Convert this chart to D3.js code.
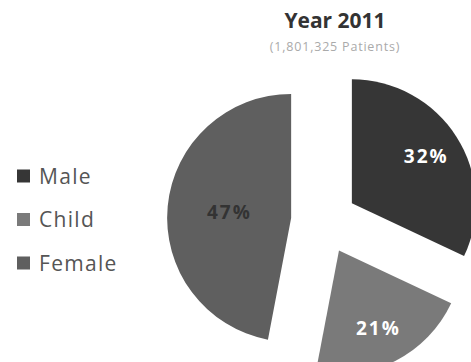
<!DOCTYPE html>
<html><head><meta charset="utf-8">
<script src="https://cdn.jsdelivr.net/npm/d3@7"></script>
<style>html,body{margin:0;padding:0;background:#fff;}svg{display:block;}</style>
</head><body>
<svg id="chart" width="471" height="362"></svg>
<script>
const categories = ["Male", "Child", "Female"];
const values = [32, 21, 47];
const labels = ["32%", "21%", "47%"];
const colors = ["#363636", "#7a7a7a", "#5f5f5f"];
const labelColors = ["#ffffff", "#ffffff", "#333333"];
const title = "Year 2011";
const subtitle = "(1,801,325 Patients)";

const svg = d3.select("#chart");
const cx = 324, cy = 221, r = 124, explode = 33;
const labelRadiusFactor = [0.71, 0.70, 0.50];

svg.append("text").attr("x", 335).attr("y", 28).attr("text-anchor", "middle")
  .attr("font-family", "Open Sans").attr("font-weight", "bold").attr("font-size", 21)
  .attr("fill", "#333").text(title);
svg.append("text").attr("x", 335).attr("y", 51).attr("text-anchor", "middle")
  .attr("font-family", "Open Sans").attr("font-size", 12.5).attr("letter-spacing", 0.8)
  .attr("fill", "#aaa").text(subtitle);

const pie = d3.pie().sort(null).value(d => d)(values);
const arc = d3.arc().innerRadius(0).outerRadius(r);

const g = svg.append("g").attr("transform", `translate(${cx},${cy})`);
const slices = g.selectAll("g.slice").data(pie).join("g").attr("class", "slice")
  .attr("transform", d => {
    const a = (d.startAngle + d.endAngle) / 2;
    return `translate(${explode * Math.sin(a)},${-explode * Math.cos(a)})`;
  });
slices.append("path").attr("d", arc).attr("fill", (d, i) => colors[i]);
slices.append("text")
  .attr("transform", (d, i) => {
    const lr = r * labelRadiusFactor[i];
    return `translate(${d3.arc().innerRadius(lr).outerRadius(lr).centroid(d)})`;
  })
  .attr("text-anchor", "middle").attr("dy", "0.36em")
  .attr("font-family", "Open Sans").attr("font-weight", "bold").attr("font-size", 19)
  .attr("letter-spacing", 2)
  .attr("fill", (d, i) => labelColors[i]).text((d, i) => labels[i]);

const legend = svg.append("g");
const ly = d3.scalePoint().domain(categories).range([176, 263]);
categories.forEach((c, i) => {
  legend.append("rect").attr("x", 17).attr("y", ly(c) - 6.5).attr("width", 13).attr("height", 13)
    .attr("fill", colors[i]);
  legend.append("text").attr("x", 39).attr("y", ly(c)).attr("dy", "0.36em")
    .attr("font-family", "Open Sans").attr("font-size", 21).attr("letter-spacing", 1.3)
    .attr("fill", "#555").text(c);
});
</script>
</body></html>
